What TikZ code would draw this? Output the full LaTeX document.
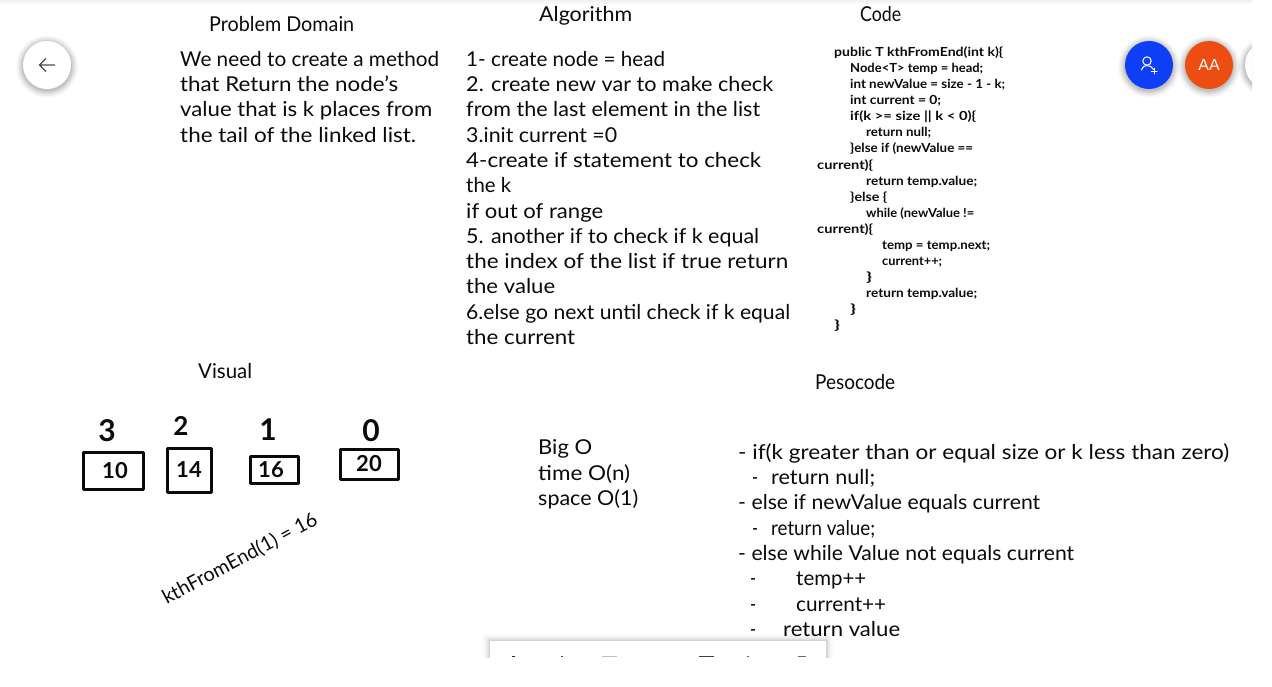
\documentclass[tikz,border=0pt]{standalone}
\usepackage{fontspec}
\usepackage{graphicx}
\setmainfont{Lato}
\newfontfamily\uifont{Liberation Sans}
\usetikzlibrary{calc}
\definecolor{fabblue}{HTML}{0F3EF7}
\definecolor{faborange}{HTML}{EE4D11}
\definecolor{inkblack}{HTML}{0A0A0A}
\newcommand{\hand}[6][\handtext]{\node[linetext,font=#1] (#2) at (#3,#4+1) {\resizebox{#5pt}{\height}{#6}};}
\newcommand{\handtext}{\fontsize{20.5}{24}\selectfont}
\newcommand{\handcode}{\fontsize{12.5}{15}\selectfont\bfseries}
\newcommand{\softdisc}[3]{%
  \foreach \g/\o in {7/.03,5.5/.04,4/.05,2.5/.06,1/.08}{%
    \fill[black,opacity=\o] (#1,#2+1.5) circle[radius=#3+\g];}}
\tikzset{
  linetext/.style={anchor=base west,inner sep=0pt,text=inkblack},
  sketchbox/.style={draw=inkblack,line width=3pt,line join=round,inner sep=0pt,font=\fontsize{22}{24}\selectfont\bfseries,text=inkblack},
  digit/.style={inner sep=0pt,font=\fontsize{30}{32}\selectfont\bfseries,text=inkblack},
  fab/.style={circle,minimum size=48pt,inner sep=0pt,text=white},
  glyph/.style={white,line width=1pt,line cap=round}
}
\begin{document}
\begin{tikzpicture}[x=1pt,y=-1pt]
\useasboundingbox (0,0) rectangle (1272,686);
\fill[white] (0,0) rectangle (1272,686);
\shade[top color=black!6,bottom color=white] (0,0) rectangle (1252,4);

% headings
\hand{hdomain}{209}{30}{145}{Problem Domain}
\hand{halgo}{539}{20}{93}{Algorithm}
\hand{hcode}{860}{20}{41}{Code}
\hand{hvisual}{198}{377}{54}{Visual}
\hand{hpeso}{815}{388}{80}{Pesocode}

% problem domain
\hand{p1}{180}{65}{259}{We need to create a method}
\hand{p2}{180}{90}{218}{that Return the node's}
\hand{p3}{180}{115}{252}{value that is k places from}
\hand{p4}{180}{141}{236}{the tail of the linked list.}

% algorithm
\hand{a1}{466}{65}{199}{1- create node = head}
\hand{a2}{466}{90}{307}{2. create new var to make check}
\hand{a3}{466}{115}{294}{from the last element in the list}
\hand{a4}{466}{141}{151}{3.init current =0}
\hand{a5}{466}{166}{295}{4-create if statement to check}
\hand{a6}{466}{191}{45}{the k}
\hand{a7}{466}{217}{137}{if out of range}
\hand{a8}{466}{242}{293}{5. another if to check if k equal}
\hand{a9}{466}{267}{322}{the index of the list if true return}
\hand{a10}{466}{292}{89}{the value}
\hand{a11}{466}{318}{324}{6.else go next until check if k equal}
\hand{a12}{466}{343}{109}{the current}

% code
\hand[\handcode]{c1}{834}{55}{169}{public T kthFromEnd(int k)\{}
\hand[\handcode]{c2}{850}{71}{133}{Node<T> temp = head;}
\hand[\handcode]{c3}{850}{87}{155}{int newValue = size - 1 - k;}
\hand[\handcode]{c4}{850}{103}{91}{int current = 0;}
\hand[\handcode]{c5}{850}{119}{126}{if(k >= size || k < 0)\{}
\hand[\handcode]{c6}{866}{135}{65}{return null;}
\hand[\handcode]{c7}{850}{151}{123}{\}else if (newValue ==}
\hand[\handcode]{c8}{817}{168}{56}{current)\{}
\hand[\handcode]{c9}{866}{184}{111}{return temp.value;}
\hand[\handcode]{c10}{850}{200}{37}{\}else \{}
\hand[\handcode]{c11}{866}{216}{108}{while (newValue !=}
\hand[\handcode]{c12}{817}{232}{56}{current)\{}
\hand[\handcode]{c13}{882}{248}{108}{temp = temp.next;}
\hand[\handcode]{c14}{882}{264}{60}{current++;}
\hand[\handcode]{c15}{866}{280}{6}{\}}
\hand[\handcode]{c16}{866}{296}{111}{return temp.value;}
\hand[\handcode]{c17}{850}{312}{6}{\}}
\hand[\handcode]{c18}{834}{328}{6}{\}}

% big O
\hand{b1}{538}{453}{54}{Big O}
\hand{b2}{538}{479}{92}{time O(n)}
\hand{b3}{538}{504}{100}{space O(1)}

% pseudocode
\hand{s1}{738}{458}{491}{- if(k greater than or equal size or k less than zero)}
\hand{s2d}{752}{483}{6}{-}
\hand{s2}{771}{483}{104}{return null;}
\hand{s3}{738}{508}{302}{- else if newValue equals current}
\hand{s4d}{752}{534}{6}{-}
\hand{s4}{771}{534}{104}{return value;}
\hand{s5}{738}{559}{336}{- else while Value not equals current}
\hand{s6d}{750}{584}{6}{-}
\hand{s6}{796}{584}{70}{temp++}
\hand{s7d}{750}{610}{6}{-}
\hand{s7}{796}{610}{90}{current++}
\hand{s8d}{750}{635}{6}{-}
\hand{s8}{783}{635}{117}{return value}

% sketched list
\node[sketchbox,minimum width=60pt,minimum height=37pt] (n10) at (113,470.5) {\hspace{4pt}10};
\node[sketchbox,minimum width=44pt,minimum height=44pt] (n14) at (189,470) {14};
\node[sketchbox,minimum width=48pt,minimum height=27pt] (n16) at (274,469.5) {\hspace{-6pt}16};
\node[sketchbox,minimum width=58pt,minimum height=30pt] (n20) at (369,464) {20};
\node[digit] (d3) at (107,431) {3};
\node[digit,font=\fontsize{26}{28}\selectfont\bfseries] (d2) at (181,426) {2};
\node[digit] (d1) at (268,430) {1};
\node[digit] (d0) at (371,431) {0};
\node[inner sep=0pt,rotate=28,text=inkblack,font=\fontsize{19.8}{24}\selectfont] (kth) at (240,559) {kthFromEnd(1) = 16};

% floating buttons
\softdisc{47}{65}{24}
\node[fab,fill=white] (back) at (47,65) {};
\draw[black!70,line width=1.1pt] (55,65) -- (40,65) (46,58.5) -- (39.5,65) -- (46,71.5);
\softdisc{1149}{65}{24}
\node[fab,fill=fabblue] (invite) at (1149,65) {};
\draw[glyph] (1147,61) circle[radius=4.2];
\draw[glyph] (1141.5,70) .. controls (1142.5,66.5) and (1145,65.5) .. (1147,65.5) .. controls (1150,65.5) and (1152,67) .. (1153.5,69.5);
\draw[glyph] (1151,71) -- (1157,71) (1154,68) -- (1154,74);
\softdisc{1209}{65}{24}
\node[fab,fill=faborange,font=\uifont\fontsize{16}{18}\selectfont] (user) at (1209,65) {AA};
\begin{scope}
\clip (1230,0) rectangle (1252,110);
\softdisc{1269}{65}{24}
\node[fab,fill=white] (more) at (1269,65) {};
\end{scope}

% bottom toolbar, cut off by the page edge
\begin{scope}
\clip (470,625) rectangle (846,657);
\foreach \g/\o in {7/.02,5/.03,3/.05,1.5/.08}{
  \fill[black,opacity=\o,rounded corners=2pt] (490-\g,641-\g) rectangle (826+\g,670);}
\fill[white] (490,641) rectangle (826,670);
\fill[black!85] (512,655.5) rectangle (515,657);
\fill[black!70] (561,655.5) rectangle (563,657);
\fill[black!25] (602,655.5) rectangle (617,657);
\fill[black!75] (699,655.5) rectangle (714,657);
\fill[black!60] (747,655.5) rectangle (749,657);
\fill[black!60] (798,655.5) rectangle (806,657);
\end{scope}
\end{tikzpicture}
\end{document}
